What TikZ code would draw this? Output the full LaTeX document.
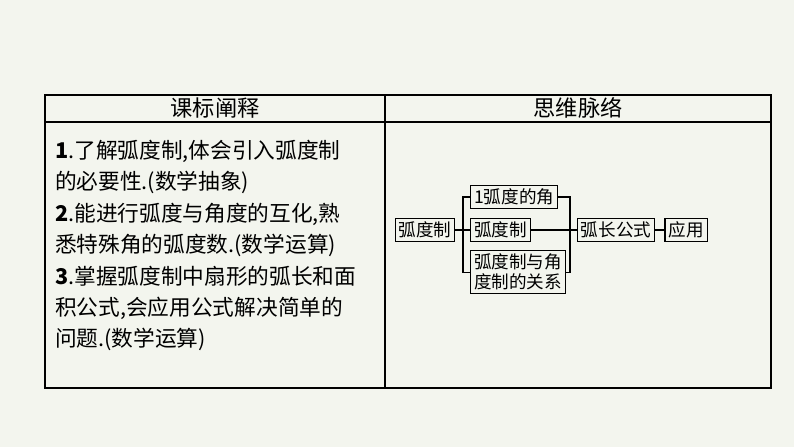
\documentclass[tikz,border=0pt]{standalone}
\usepackage{fontspec}
\setmainfont{Noto Sans CJK SC}
\definecolor{bgcol}{HTML}{F3F5EE}
\definecolor{boxcol}{HTML}{F3F5EE}
\tikzset{
    mapbox/.style={draw, line width=1pt, fill=boxcol, inner xsep=3pt, inner ysep=3pt, font=\fontsize{15}{17}\selectfont, align=center},
    line/.style={line width=0.9pt},
}
\begin{document}
\begin{tikzpicture}[x=0.03cm, y=-0.03cm]
    \fill[bgcol] (0,0) rectangle (794,447);
    \useasboundingbox (0,0) rectangle (794,447);
    % table
    \draw[line width=1.1pt] (45,95) rectangle (771,388);
    \draw[line width=1.1pt] (45,122) -- (771,122);
    \draw[line width=1.1pt] (385,95) -- (385,388);
    \node[font=\fontsize{19}{21}\selectfont] (h1) at (215,108) {课标阐释};
    \node[font=\fontsize{19}{21}\selectfont] (h2) at (578,108) {思维脉络};
    \node[anchor=north west, align=left, inner sep=0pt, font=\fontsize{18.5}{26.8}\selectfont] (txt) at (55,140)
        {\textbf{1}.了解弧度制,体会引入弧度制\\
         的必要性.(数学抽象)\\
         \textbf{2}.能进行弧度与角度的互化,熟\\
         悉特殊角的弧度数.(数学运算)\\
         \textbf{3}.掌握弧度制中扇形的弧长和面\\
         积公式,会应用公式解决简单的\\
         问题.(数学运算)};
    % map
    \node[mapbox] (rad) at (425,230) {弧度制};
    \node[mapbox, anchor=west] (one) at (470,197) {1弧度的角};
    \node[mapbox, anchor=west] (def) at (470,230) {弧度制};
    \node[mapbox, anchor=north west] (rel) at (470,250) {弧度制与角\\度制的关系};
    \node[mapbox] (arc) at (616,230) {弧长公式};
    \node[mapbox] (app) at (686,230) {应用};
    \coordinate (lb) at (463,230);
    \coordinate (rb) at (570,230);
    \draw[line] (rad) -- (def);
    \draw[line] (one.west) -| (lb) |- (rel.west);
    \draw[line] (one.east) -| (rb) |- (rel.east);
    \draw[line] (def) -- (arc);
    \draw[line] (arc) -- (app);
\end{tikzpicture}
\end{document}
